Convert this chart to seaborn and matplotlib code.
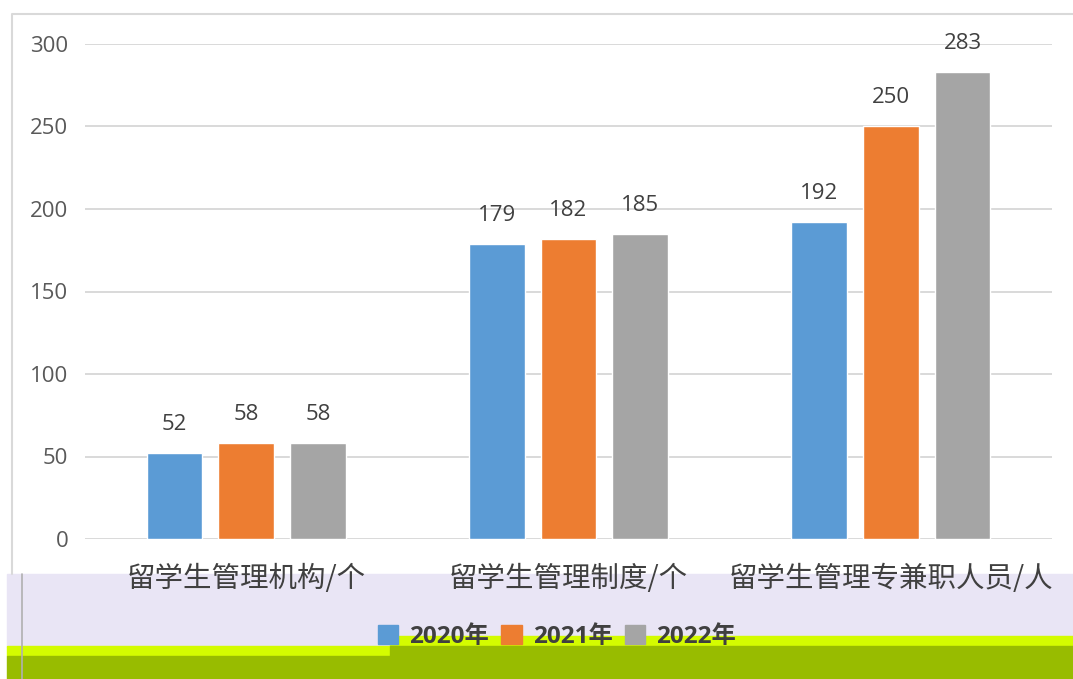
import pandas as pd
import matplotlib.pyplot as plt
import seaborn as sns
from matplotlib.patches import Rectangle
from matplotlib.lines import Line2D

categories = ['留学生管理机构/个', '留学生管理制度/个', '留学生管理专兼职人员/人']
years = ['2020年', '2021年', '2022年']
values_2020 = [52, 179, 192]
values_2021 = [58, 182, 250]
values_2022 = [58, 185, 283]
colors = ['#5B9BD5', '#ED7D31', '#A5A5A5']

rows = []
for year, vals in zip(years, [values_2020, values_2021, values_2022]):
    for cat, v in zip(categories, vals):
        rows.append({'cat': cat, 'year': year, 'val': v})
df = pd.DataFrame(rows)

sns.set_style('white')
plt.rcParams['font.family'] = ['Open Sans', 'Noto Sans CJK SC', 'DejaVu Sans']

W, H = 1073, 679
fig = plt.figure(figsize=(W / 100, H / 100), dpi=100)
fig.patch.set_facecolor('white')


def fy(y):
    return 1 - y / H


# odd background bands at the bottom of the picture
bands = [
    (7, 574, W, 647, '#E9E5F5'),
    (7, 646, 390, 656, '#D4FC00'),
    (390, 636, W, 646, '#D4FC00'),
    (7, 656, 390, H, '#98BC00'),
    (390, 646, W, H, '#98BC00'),
]
for x0, y0, x1, y1, c in bands:
    fig.patches.append(Rectangle((x0 / W, fy(y1)), (x1 - x0) / W, (y1 - y0) / H,
                                 transform=fig.transFigure, color=c, zorder=-5))

# chart frame
fig.lines.append(Line2D([12 / W, 12 / W, 1], [fy(574), fy(14), fy(14)],
                        transform=fig.transFigure, color='#D9D9D9', lw=1.5, zorder=-4))
fig.lines.append(Line2D([22 / W, 22 / W], [fy(574), 0],
                        transform=fig.transFigure, color='#B0B0B0', lw=1.2, zorder=-4))

ax = fig.add_axes([85 / W, 1 - 539 / H, (1052 - 85) / W, (539 - 44) / H])
ax.set_facecolor('none')
sns.barplot(data=df, x='cat', y='val', hue='year', palette=colors,
            width=0.667, gap=0.22, ax=ax, legend=False, saturation=1)

for cont in ax.containers:
    ax.bar_label(cont, padding=13, fontsize=16, color='#404040')

ax.set_ylim(0, 300)
ax.set_xlim(-0.5, 2.5)
ax.set_yticks([0, 50, 100, 150, 200, 250, 300])
ax.yaxis.grid(True, color='#D9D9D9', lw=1.4)
ax.set_axisbelow(True)
sns.despine(ax=ax, left=True, bottom=True)
ax.set_xlabel('')
ax.set_ylabel('')
ax.tick_params(axis='y', length=0, pad=12, labelsize=16, labelcolor='#595959')
ax.tick_params(axis='x', length=0, pad=18, labelsize=20.5, labelcolor='#404040')
for lbl in ax.get_xticklabels():
    lbl.set_family(['Noto Sans CJK SC'])
    lbl.set_fontweight('light')

handles = [Rectangle((0, 0), 1, 1, color=c) for c in colors]
leg = fig.legend(handles, years, loc='center', bbox_to_anchor=(557 / W, fy(637)),
                 ncol=3, frameon=False, handlelength=0.85, handleheight=0.85,
                 handletextpad=0.45, columnspacing=0.5,
                 prop={'size': 17.5, 'weight': 'bold'})
for t in leg.get_texts():
    t.set_color('#404040')

fig.savefig('out.png', dpi=100)
